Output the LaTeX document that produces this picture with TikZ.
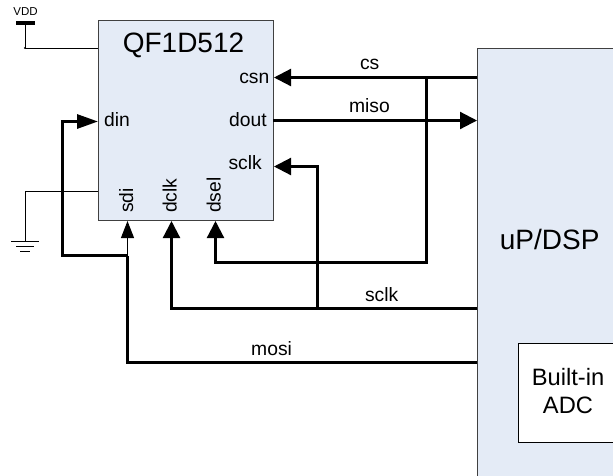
\documentclass[tikz,border=0pt]{standalone}
\usepackage{fontspec}
\setmainfont{Liberation Sans}
\usetikzlibrary{arrows.meta}
\definecolor{boxblue}{HTML}{E4EBF6}
\definecolor{boxline}{HTML}{404040}
\tikzset{
  blockbox/.style={draw=boxline,line width=1pt,fill=boxblue,inner sep=0pt},
  adcbox/.style={draw=black,line width=1pt,fill=white,inner sep=0pt},
  bigtxt/.style={inner sep=0pt,font=\fontsize{28}{28}\selectfont},
  pintxt/.style={inner sep=0pt,font=\fontsize{19.3}{19.3}\selectfont},
  adctxt/.style={inner sep=0pt,align=center,font=\fontsize{23.7}{28.5}\selectfont},
  bus/.style={line width=2.2pt},
  wire/.style={line width=1pt},
  tip/.style={-{Triangle[length=17pt,width=17pt]}}
}
\begin{document}
\begin{tikzpicture}[x=1pt,y=-1pt]
\useasboundingbox (0,0) rectangle (613,475);
% blocks
\node[blockbox,minimum width=175pt,minimum height=200pt] (chip) at (185.5,120){};
\node[blockbox,minimum width=170pt,minimum height=440pt] (dsp) at (562,268){};
\node[adcbox,minimum width=130pt,minimum height=99pt] (adc) at (583,392.5){};
% block texts
\node[bigtxt,anchor=base] (chipname) at (183.5,52.7){QF1D512};
\node[bigtxt] (dspname) at (549.7,239){uP/DSP};
\node[adctxt] (adcname) at (568,391){Built-in\\ADC};
% pins
\node[pintxt,anchor=base east] (csn) at (269.5,83.3){csn};
\node[pintxt,anchor=base east] (dout) at (267,126){dout};
\node[pintxt,anchor=base east] (sclk) at (262,169){sclk};
\node[pintxt,anchor=base west] (din) at (104,126){din};
\node[pintxt,anchor=base west,rotate=90] (sdi) at (133,213){sdi};
\node[pintxt,anchor=base west,rotate=90] (dclk) at (176.7,213){dclk};
\node[pintxt,anchor=base west,rotate=90] (dsel) at (220.7,213){dsel};
% net names
\node[pintxt,anchor=base] (cs) at (369.7,69.3){cs};
\node[pintxt,anchor=base] (miso) at (369.5,112){miso};
\node[pintxt,anchor=base] (sclknet) at (381.7,301){sclk};
\node[pintxt,anchor=base] (mosi) at (271.6,355){mosi};
% ends of the wires
\coordinate (csnin) at (274,77.5);
\coordinate (csnout) at (477,77.5);
\coordinate (csnjoin) at (426.5,77.5);
\coordinate (doutout) at (273,120.5);
\coordinate (misoin) at (477,120.5);
\coordinate (sclkin) at (274,166.5);
\coordinate (sclkout) at (477,308.5);
\coordinate (sclkjoin) at (317.5,308.5);
\coordinate (dinin) at (98,121.5);
\coordinate (dinleft) at (62.5,121.5);
\coordinate (sdiin) at (127.5,221);
\coordinate (sdijoin) at (127.5,255.5);
\coordinate (mosiout) at (477,362.5);
\coordinate (dclkin) at (171.5,221);
\coordinate (dselin) at (215.5,221);
\coordinate (vddtop) at (25,23);
\coordinate (vddjoin) at (25,48);
\coordinate (vddin) at (98,48);
\coordinate (gndin) at (98,191);
\coordinate (gndjoin) at (25,191);
\coordinate (gndbar) at (25,241);
% signals
\draw[bus,tip] (csnout)--(csnin);
\draw[bus] (csnjoin)--(csnjoin|-0,262.5)--(dselin|-0,262.5)--(dselin|-0,240);
\draw[bus,tip] (dselin|-0,245)--(dselin);
\draw[bus,tip] (doutout)--(misoin);
\draw[bus] (sclkout)--(dclkin|-sclkout)--(dclkin|-0,240);
\draw[bus,tip] (dclkin|-0,245)--(dclkin);
\draw[bus] (sclkjoin)--(sclkjoin|-sclkin)--(290,166.5);
\draw[bus,tip] (296,166.5)--(sclkin);
\draw[bus] (mosiout)--(sdijoin|-mosiout)--(sdijoin);
\draw[line width=1pt,-{Triangle[length=17pt,width=13pt]}] (sdijoin)--(sdiin);
\draw[line width=3pt] (sdijoin)--(dinleft|-sdijoin)--(dinleft)--(80,121.5);
\draw[line width=3pt,-{Triangle[length=21pt,width=14pt]}] (80,121.5)--(dinin);
% supply
\draw[wire] (vddtop)--(vddjoin)--(vddin);
\draw[line width=4pt] (16,23)--(35,23);
\fill (vddjoin) circle (1.2pt);
\node[inner sep=0pt,anchor=base,font=\fontsize{11.5}{11.5}\selectfont] (vdd) at (25.5,15.3){VDD};
\draw[wire] (gndin)--(gndjoin)--(gndbar);
\draw[wire] (11,241)--(39,241);
\draw[wire] (16,246)--(34,246);
\draw[wire] (20,251)--(30,251);
\end{tikzpicture}
\end{document}
